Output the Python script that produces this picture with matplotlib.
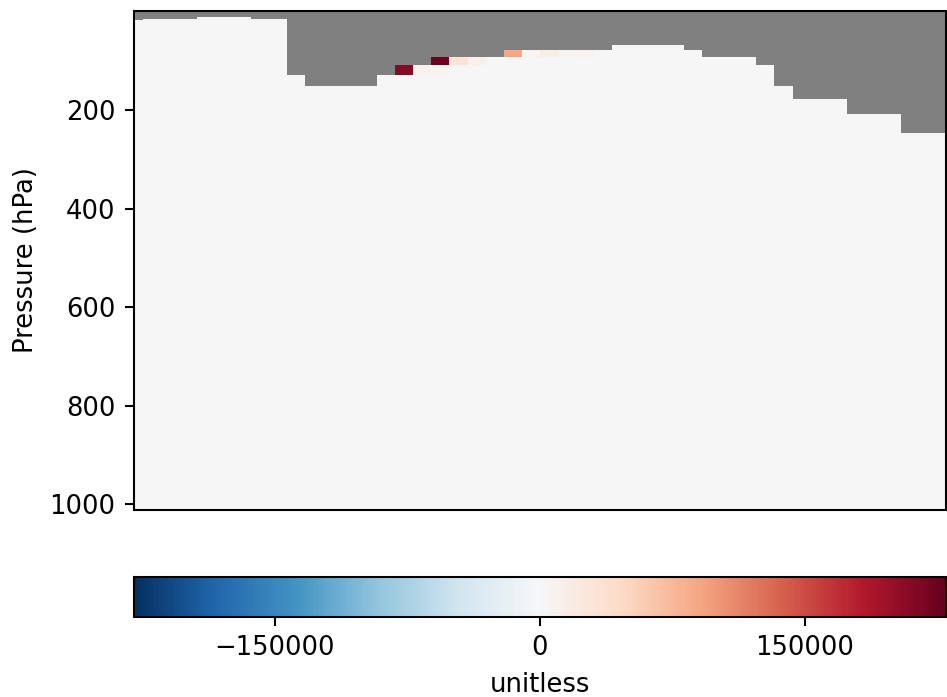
import numpy as np
import matplotlib
matplotlib.use("Agg")
import matplotlib.pyplot as plt

# latitude centres of the columns (deg)
lats = np.arange(-90, 91, 4)

# pressure edges of the rows (hPa), top to bottom
p_edges = np.array([0, 11, 15, 17.5, 25, 35, 48, 68, 78, 92, 109, 129, 151, 178, 208,
                    247, 289, 339, 377, 416, 455, 493, 531, 570, 608, 647, 685, 724,
                    762, 801, 839, 878, 916, 955, 993, 1012])

# highest valid pressure edge in each column (above it: no data)
top_p = [17.5, 15, 15, 15, 11, 11, 11, 15, 15, 129,
         151, 151, 151, 151, 129, 109, 109, 92, 92, 92,
         92, 78, 78, 78, 78, 78, 78, 68, 68, 68,
         68, 78, 92, 92, 92, 109, 151, 178, 178, 178,
         208, 208, 208, 247, 247, 247]

# the few cells that stand out from ~0 : (lat, top edge of row, value)
anom_lat = [-30, -26, -22, -22, -18, -14, -6, -2, 2, 6, 10]
anom_p = [109, 109, 109, 92, 92, 92, 78, 78, 78, 78, 78]
anom_val = [211000, 10000, 6000, 226000, 32000, 12000, 89000, 4000, 15000, 6000, 9000]

vmax = 230000

# build the field
nrow = len(p_edges) - 1
field = np.zeros((nrow, len(lats)))
for lat, p, v in zip(anom_lat, anom_p, anom_val):
    i = list(p_edges).index(p)
    j = list(lats).index(lat)
    field[i, j] = v
mask = p_edges[:-1][:, None] < np.array(top_p)[None, :]
field = np.ma.masked_array(field, mask=mask)

lat_edges = np.concatenate([[lats[0] - 2], (lats[:-1] + lats[1:]) / 2, [lats[-1] + 2]])

fig = plt.figure(figsize=(947 / 186, 697 / 186), dpi=186)
ax = fig.add_axes([133.5 / 947, 1 - 510 / 697, 812.5 / 947, 499 / 697])
cax = fig.add_axes([133.5 / 947, 1 - 617.3 / 697, 812.5 / 947, 40.6 / 697])

ax.set_facecolor("gray")
mesh = ax.pcolormesh(lat_edges, p_edges, field, cmap="RdBu_r", vmin=-vmax, vmax=vmax)
ax.set_xlim(-90, 90)
ax.set_ylim(1012, -1)
ax.set_xticks([])
ax.set_yticks([200, 400, 600, 800, 1000])
ax.set_ylabel("Pressure (hPa)")

cb = fig.colorbar(mesh, cax=cax, orientation="horizontal")
cb.set_ticks([-150000, 0, 150000])
cb.set_label("unitless")

fig.savefig("out.png", dpi=186)
